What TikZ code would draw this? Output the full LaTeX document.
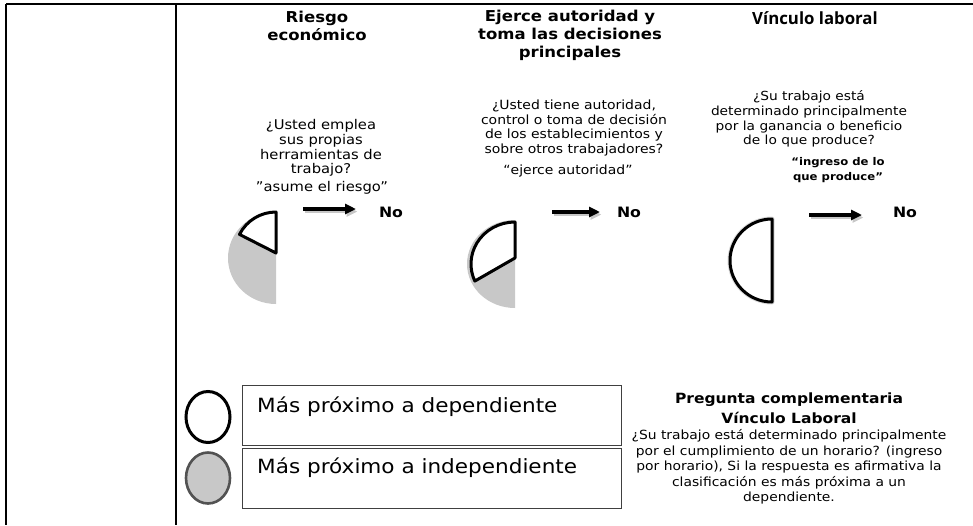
\documentclass[tikz,border=0pt]{standalone}
\usepackage{fontspec}
\setmainfont[FakeStretch=1.1]{DejaVu Sans}
\newfontfamily\vfont{Open Sans}
\usetikzlibrary{arrows.meta,shapes.geometric}
\definecolor{pieg}{HTML}{C8C8C8}
\begin{document}
\begin{tikzpicture}[x=1pt,y=-1pt,
  rule/.style={line width=1.3pt},
  title/.style={font=\bfseries\fontsize{15}{18}\selectfont, align=center, inner sep=0},
  quest/.style={font=\fontsize{12.7}{14.8}\selectfont, align=center, inner sep=0},
  nolabel/.style={font=\bfseries\fontsize{14.3}{16}\selectfont, inner sep=0},
  arr/.style={line width=3.6pt, -{Triangle[length=11pt,width=10pt]}},
  arrshadow/.style={line width=3.6pt, black!22, -{Triangle[length=11pt,width=10pt]}},
  pieline/.style={line width=3pt, line join=round, fill=white},
  legbox/.style={draw=black!75, line width=0.9pt, rectangle, inner sep=0, minimum width=379pt, minimum height=60pt},
  legtext/.style={font=\fontsize{19.6}{22}\selectfont, inner sep=0},
  legcirc/.style={ellipse, inner sep=0, minimum width=44pt, minimum height=51pt},
  note/.style={font=\fontsize{12.6}{15.5}\selectfont, align=center, inner sep=0},
  notetitle/.style={font=\bfseries\fontsize{14.1}{20}\selectfont, align=center, inner sep=0}
]
\useasboundingbox (0,0) rectangle (973,525);
% table rules
\coordinate (tl) at (6,4);
\coordinate (tr) at (973,4);
\coordinate (bl) at (6,525);
\coordinate (mt) at (176,4);
\coordinate (mb) at (176,525);
\draw[rule] (tl) -- (tr);
\draw[rule] (tl) -- (bl);
\draw[rule] (mt) -- (mb);

% titles
\node[title] (h1) at (317,26) {Riesgo\\econ\'omico};
\node[title] (h2) at (570,35) {Ejerce autoridad y\\toma las decisiones\\principales};
\node[font=\vfont\bfseries\fontsize{16.8}{18}\selectfont, inner sep=0] (h3) at (815,18) {Vínculo laboral};

% questions
\node[quest, font=\fontsize{13.4}{14.8}\selectfont] (q1) at (321,148) {¿Usted emplea\\sus propias\\herramientas de\\trabajo?};
\node[quest, font=\fontsize{13.4}{14.8}\selectfont] (k1) at (322,188) {{\char34}asume el riesgo”};
\node[quest] (q2) at (574,128) {¿Usted tiene autoridad,\\control o toma de decisión\\de los establecimientos y\\sobre otros trabajadores?};
\node[quest] (k2) at (568,171) {“ejerce autoridad”};
\node[quest, font=\fontsize{12.5}{14.8}\selectfont] (q3) at (809,119) {¿Su trabajo está\\determinado principalmente\\por la ganancia o beneficio\\de lo que produce?};
\node[quest, font=\bfseries\fontsize{10.6}{14.5}\selectfont] (k3) at (838,170) {“ingreso de lo\\que produce”};

% arrows and No
\coordinate (a1s) at (303,209); \coordinate (a1e) at (356,209);
\coordinate (a2s) at (552,212); \coordinate (a2e) at (600,212);
\coordinate (a3s) at (809,215); \coordinate (a3e) at (862,215);
\foreach \s/\e in {a1s/a1e,a2s/a2e,a3s/a3e}{
  \draw[arrshadow] ([shift={(1.5,2.5)}]\s) -- ([shift={(1.5,2.5)}]\e);
  \draw[arr] (\s) -- (\e);
}
\node[nolabel] (n1) at (391,212) {No};
\node[nolabel] (n2) at (629,212) {No};
\node[nolabel] (n3) at (905,212) {No};

% pie 1
\fill[pieg] (276,212) arc[start angle=-90, end angle=-270, x radius=48, y radius=46] -- cycle;
\draw[pieline] (276,253) -- (276,212) arc[start angle=-90, end angle=-153, radius=41] -- cycle;
% pie 2
\fill[pieg] (515,220) arc[start angle=-90, end angle=-270, x radius=48, y radius=44] -- cycle;
\draw[pieline] (515,258) -- (515,222) arc[start angle=-90, end angle=-204, x radius=44, y radius=42] -- cycle;
% pie 3
\draw[line width=5pt, black!14, line join=round] (772,219) arc[start angle=-90, end angle=-270, x radius=42, y radius=41.5] -- cycle;
\draw[pieline] (772,219) arc[start angle=-90, end angle=-270, x radius=42, y radius=41.5] -- cycle;

% legend
\node[legcirc, draw=black, line width=3pt] (c1) at (208,417) {};
\node[legcirc, draw=black!68, fill=pieg, line width=2.6pt] (c2) at (208,478) {};
\node[legbox, anchor=north west] (b1) at (242,385) {};
\node[legbox, anchor=north west] (b2) at (242,448) {};
\node[legtext, anchor=west] (t1) at (257,407) {Más próximo a dependiente};
\node[legtext, anchor=west] (t2) at (257,468) {Más próximo a independiente};

% complementary question
\node[notetitle] (p1) at (789,408) {Pregunta complementaria\\Vínculo Laboral};
\node[note] (p2) at (789,467) {¿Su trabajo está determinado principalmente\\por el cumplimiento de un horario? (ingreso\\por horario), Si la respuesta es afirmativa la\\clasificación es más próxima a un\\dependiente.};
\end{tikzpicture}
\end{document}
